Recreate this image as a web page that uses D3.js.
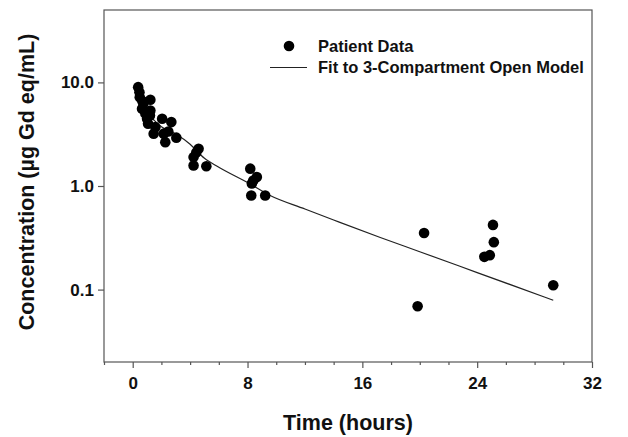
<!DOCTYPE html>
<html>
<head>
<meta charset="utf-8">
<script src="https://cdn.jsdelivr.net/npm/d3@7"></script>
<style>
  body { margin: 0; background: #fff; }
  text { font-family: "Liberation Sans", Arial, sans-serif; font-weight: bold; fill: #111; }
</style>
</head>
<body>
<svg id="chart"></svg>
<script>
// Patient data (time in hours, concentration in ug Gd eq/mL)
const patientTime = [0.38, 0.47, 0.49, 0.74, 0.65, 0.88, 1.23, 1.23, 1.0, 1.07, 0.67,
  2.05, 2.69, 1.46, 2.16, 2.27, 3.04, 2.48, 1.2, 1.58,
  4.59, 4.43, 4.24, 4.24, 5.13,
  8.19, 8.65, 8.4, 8.3, 8.26, 9.23,
  20.3, 19.85, 25.1, 25.16, 24.88, 24.5, 29.3];
const patientConc = [9.0, 8.05, 7.2, 6.26, 5.57, 5.0, 6.8, 5.36, 4.46, 3.99, 6.6,
  4.46, 4.14, 3.2, 3.2, 2.65, 2.93, 3.36, 4.8, 3.7,
  2.29, 2.11, 1.9, 1.58, 1.55,
  1.47, 1.22, 1.13, 1.06, 0.81, 0.81,
  0.352, 0.069, 0.421, 0.287, 0.215, 0.207, 0.11];

// Fitted 3-compartment curve
const fitTime = [0.2, 0.5, 1, 1.5, 2, 3, 4, 5, 6, 8, 9.5, 12, 14, 17.25, 20, 24, 29.3];
const fitConc = [8.3, 6.7, 5.13, 4.3, 3.73, 3.17, 2.53, 1.85, 1.52, 1.08, 0.82, 0.60,
  0.47, 0.318, 0.232, 0.146, 0.079];

const xMajorTicks = [0, 8, 16, 24, 32];
const xMinorTicks = [-2, 2, 4, 6, 10, 12, 14, 18, 20, 22, 26, 28, 30];
const yTicks = [0.1, 1, 10];

const W = 628, H = 437;
const plot = { left: 104, right: 592, top: 10, bottom: 362 };

const svg = d3.select('#chart').attr('width', W).attr('height', H);

const x = d3.scaleLinear().domain([-2, 32]).range([plot.left, plot.right]);
const y = d3.scaleLog().domain([0.02, 50]).range([plot.bottom, plot.top]);

// frame
svg.append('rect')
  .attr('x', plot.left).attr('y', plot.top)
  .attr('width', plot.right - plot.left).attr('height', plot.bottom - plot.top)
  .attr('fill', 'none').attr('stroke', '#555').attr('stroke-width', 1.2);

// x axis
const xAxis = svg.append('g')
  .attr('transform', `translate(0,${plot.bottom})`)
  .call(d3.axisBottom(x).tickValues(xMajorTicks).tickSize(6).tickPadding(9).tickFormat(d3.format('d')));
xAxis.select('.domain').remove();
xAxis.selectAll('line').attr('stroke', '#555').attr('stroke-width', 1.2);
xAxis.selectAll('text').style('font-size', '17px').attr('fill', '#111');

const xMinor = svg.append('g')
  .attr('transform', `translate(0,${plot.bottom})`)
  .call(d3.axisBottom(x).tickValues(xMinorTicks).tickSize(3).tickFormat(''));
xMinor.select('.domain').remove();
xMinor.selectAll('line').attr('stroke', '#555').attr('stroke-width', 1.2);

// y axis
const yAxis = svg.append('g')
  .attr('transform', `translate(${plot.left},0)`)
  .call(d3.axisLeft(y).tickValues(yTicks).tickSize(6).tickPadding(4).tickFormat(d3.format('.1f')));
yAxis.select('.domain').remove();
yAxis.selectAll('line').attr('stroke', '#555').attr('stroke-width', 1.2);
yAxis.selectAll('text').style('font-size', '17px').attr('fill', '#111');

// axis titles
svg.append('text')
  .attr('x', 348).attr('y', 430)
  .attr('text-anchor', 'middle')
  .style('font-size', '21.5px')
  .text('Time (hours)');

svg.append('text')
  .attr('transform', 'translate(34,182) rotate(-90)')
  .attr('text-anchor', 'middle')
  .style('font-size', '21.5px')
  .text('Concentration (\u00b5g Gd eq/mL)');

// fit line
const line = d3.line()
  .x((d, i) => x(fitTime[i]))
  .y(d => y(d))
  .curve(d3.curveMonotoneX);

svg.append('path')
  .datum(fitConc)
  .attr('d', line)
  .attr('fill', 'none')
  .attr('stroke', '#222')
  .attr('stroke-width', 1.2);

// points
svg.selectAll('.pt')
  .data(patientConc)
  .enter()
  .append('circle')
  .attr('class', 'pt')
  .attr('cx', (d, i) => x(patientTime[i]))
  .attr('cy', d => y(d))
  .attr('r', 5.3)
  .attr('fill', '#000');

// legend
const legend = svg.append('g');
legend.append('circle').attr('cx', 289).attr('cy', 46).attr('r', 5.3).attr('fill', '#000');
legend.append('text').attr('x', 318).attr('y', 51.5).style('font-size', '16.5px').text('Patient Data');
legend.append('line').attr('x1', 270).attr('x2', 307).attr('y1', 67.5).attr('y2', 67.5)
  .attr('stroke', '#222').attr('stroke-width', 1.2);
legend.append('text').attr('x', 318).attr('y', 73).style('font-size', '16.5px').text('Fit to 3-Compartment Open Model');
</script>
</body>
</html>
